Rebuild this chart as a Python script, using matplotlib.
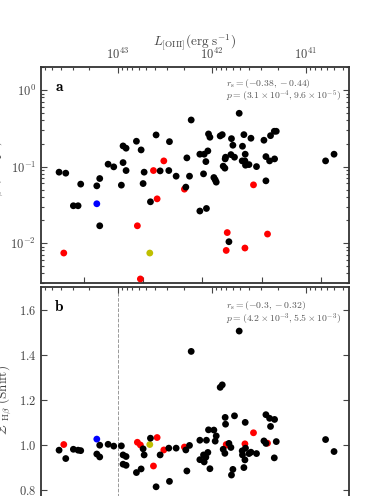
import matplotlib
matplotlib.use("Agg")
import matplotlib.pyplot as plt
import numpy as np

plt.rcParams['font.family'] = 'serif'
plt.rcParams['font.serif'] = ['cmr10']
plt.rcParams['mathtext.fontset'] = 'cm'
plt.rcParams['axes.formatter.use_mathtext'] = True
plt.rcParams['axes.unicode_minus'] = False

# log10 L[OIII] of each object, shape and shift values, colour group
logL = [43.624, 43.574, 43.553, 43.472, 43.422, 43.394, 43.223, 43.223, 43.192, 43.192,
        43.103, 43.043, 42.962, 42.944, 42.944, 42.912, 42.912, 42.802, 42.792, 42.760,
        42.752, 42.731, 42.720, 42.660, 42.653, 42.621, 42.582, 42.593, 42.550, 42.511,
        42.458, 42.451, 42.380, 42.292, 42.277, 42.266, 42.238, 42.220, 42.128, 42.128,
        42.089, 42.082, 42.064, 42.058, 42.043, 42.036, 42.021, 41.979, 41.965, 41.954,
        41.912, 41.890, 41.880, 41.862, 41.859, 41.855, 41.837, 41.848, 41.819, 41.798,
        41.792, 41.777, 41.760, 41.710, 41.678, 41.675, 41.660, 41.649, 41.646, 41.643,
        41.649, 41.606, 41.585, 41.558, 41.526, 41.447, 41.426, 41.426, 41.409, 41.387,
        41.377, 41.334, 41.337, 41.316, 40.792, 40.702]
shape = [0.0844, 0.0074, 0.0819, 0.0307, 0.0307, 0.0589, 0.0326, 0.0559, 0.0697, 0.0168,
         0.1073, 0.0990, 0.0571, 0.1126, 0.1859, 0.1736, 0.0886, 0.2141, 0.0168, 0.00339,
         0.1649, 0.0599, 0.0844, 0.0074, 0.0346, 0.0886, 0.0378, 0.2588, 0.0877, 0.1185,
         0.0886, 0.2115, 0.0748, 0.0506, 0.0538, 0.1297, 0.0748, 0.406, 0.0262, 0.1449,
         0.0802, 0.1449, 0.1160, 0.0283, 0.1600, 0.2667, 0.2415, 0.0718, 0.0670, 0.0625,
         0.2511, 0.2611, 0.1011, 0.0952, 0.1258, 0.1324, 0.0137, 0.0080, 0.0104, 0.1432,
         0.2315, 0.1899, 0.1324, 0.4966, 0.1185, 0.1842, 0.2611, 0.1185, 0.1449, 0.1041,
         0.0086, 0.1060, 0.2344, 0.0576, 0.0998, 0.2207, 0.1348, 0.0650, 0.0131, 0.1185,
         0.2533, 0.1258, 0.2891, 0.2891, 0.1185, 0.1449]
shift = [0.978, 1.003, 0.941, 0.982, 0.978, 0.976, 1.027, 0.961, 1.000, 0.948,
         1.004, 0.996, 0.997, 0.957, 0.916, 0.950, 0.911, 0.879, 1.013, 1.001,
         0.895, 0.984, 0.957, 1.003, 1.031, 0.908, 1.034, 0.816, 0.957, 0.979,
         0.987, 0.840, 0.987, 0.992, 0.979, 0.886, 0.999, 1.415, 0.936, 1.022,
         0.957, 0.926, 0.947, 1.022, 0.968, 1.068, 0.896, 1.067, 1.018, 1.041,
         1.256, 1.267, 0.982, 0.964, 1.123, 1.093, 1.001, 1.003, 1.008, 0.990,
         0.868, 0.893, 1.130, 1.505, 0.975, 0.957, 0.901, 0.935, 1.101, 0.987,
         1.006, 0.963, 0.969, 1.055, 0.963, 1.019, 1.135, 1.008, 1.009, 1.119,
         1.083, 1.114, 0.944, 1.016, 1.025, 0.972]
group = ['k', 'r', 'k', 'k', 'k', 'k', 'b', 'k', 'k', 'k',
         'k', 'k', 'k', 'k', 'k', 'k', 'k', 'k', 'r', 'r',
         'k', 'k', 'k', 'y', 'k', 'r', 'r', 'k', 'k', 'r',
         'k', 'k', 'k', 'r', 'k', 'k', 'k', 'k', 'k', 'k',
         'k', 'k', 'k', 'k', 'k', 'k', 'k', 'k', 'k', 'k',
         'k', 'k', 'k', 'k', 'k', 'k', 'r', 'r', 'k', 'k',
         'k', 'k', 'k', 'k', 'k', 'k', 'k', 'k', 'k', 'k',
         'r', 'k', 'k', 'r', 'k', 'k', 'k', 'k', 'r', 'k',
         'k', 'k', 'k', 'k', 'k', 'k']

colours = {'k': 'black', 'r': '#ff0000', 'b': '#0000ff', 'y': '#bfbf00'}
stats_a = [r'$r_{\rm s} = (-0.38, -0.44)$',
           r'$p = (3.1\times10^{-4}, 9.6\times10^{-5})$']
stats_b = [r'$r_{\rm s} = (-0.3, -0.32)$',
           r'$p = (4.2\times10^{-3}, 5.5\times10^{-3})$']
bottom_ticks = [43.359, 42.731, 42.103, 41.465, 40.837]
xlim = (43.816, 40.543)

grey = '#444444'
fig = plt.figure(figsize=(3.89, 4.96), dpi=100)
ax_a = fig.add_axes([0.1054, 0.4294, 0.7918, 0.4355])
ax_b = fig.add_axes([0.1054, -0.0343, 0.7918, 0.4557])

x = np.array(logL)
g = np.array(group)
for ax, y in [(ax_a, np.array(shape)), (ax_b, np.array(shift))]:
    for key in ['r', 'b', 'y', 'k']:
        m = g == key
        ax.scatter(x[m], y[m], s=24, c=colours[key], edgecolors='none', zorder=3)
    ax.set_xlim(xlim)
    ax.set_xticks(bottom_ticks)
    ax.set_xticklabels([])
    ax.tick_params(which='both', direction='in', colors=grey, labelsize=9,
                   right=True, width=0.8)
    ax.tick_params(which='major', length=4)
    ax.tick_params(which='minor', length=2)
    for s in ax.spines.values():
        s.set_color('#333333')
        s.set_linewidth(1.3)

    top = ax.twiny()
    top.set_xscale('log')
    top.set_xlim(10 ** xlim[0], 10 ** xlim[1])
    top.tick_params(which='both', direction='in', colors=grey, labelsize=9, width=0.8)
    top.tick_params(which='major', length=4)
    top.tick_params(which='minor', length=2)
    for s in top.spines.values():
        s.set_visible(False)
    if ax is ax_a:
        top.set_xlabel(r'$L_{[\rm OIII]} ({\rm erg\ s^{-1}})$', fontsize=9.5,
                       color=grey, labelpad=0.5)
    else:
        top.tick_params(labeltop=False)

ax_a.set_yscale('log')
ax_a.set_ylim(0.003, 2.0)
ax_a.set_ylabel(r'$\mathcal{S}_{\rm H\beta}$ (Shape)', fontsize=9.5, color=grey)
ax_b.set_ylim(0.7, 1.7)
ax_b.set_yticks([0.8, 1.0, 1.2, 1.4, 1.6])
ax_b.set_ylabel(r"$\mathcal{Z}'_{\rm H\beta}$ (Shift)", fontsize=9.5, color=grey)
ax_b.axvline(43.0, color='#999999', ls='--', lw=0.7, zorder=1)

ax_a.text(0.06, 0.907, r'$\mathbf{a}$', transform=ax_a.transAxes, fontsize=11,
          ha='center', va='center')
ax_b.text(0.06, 0.913, r'$\mathbf{b}$', transform=ax_b.transAxes, fontsize=11,
          ha='center', va='center')
for ax, lines, ys in [(ax_a, stats_a, (0.922, 0.868)), (ax_b, stats_b, (0.916, 0.857))]:
    for t, yy in zip(lines, ys):
        ax.text(0.60, yy, t, transform=ax.transAxes, fontsize=7, color='#555555',
                ha='left', va='center')

fig.savefig('out.png', dpi=100)
